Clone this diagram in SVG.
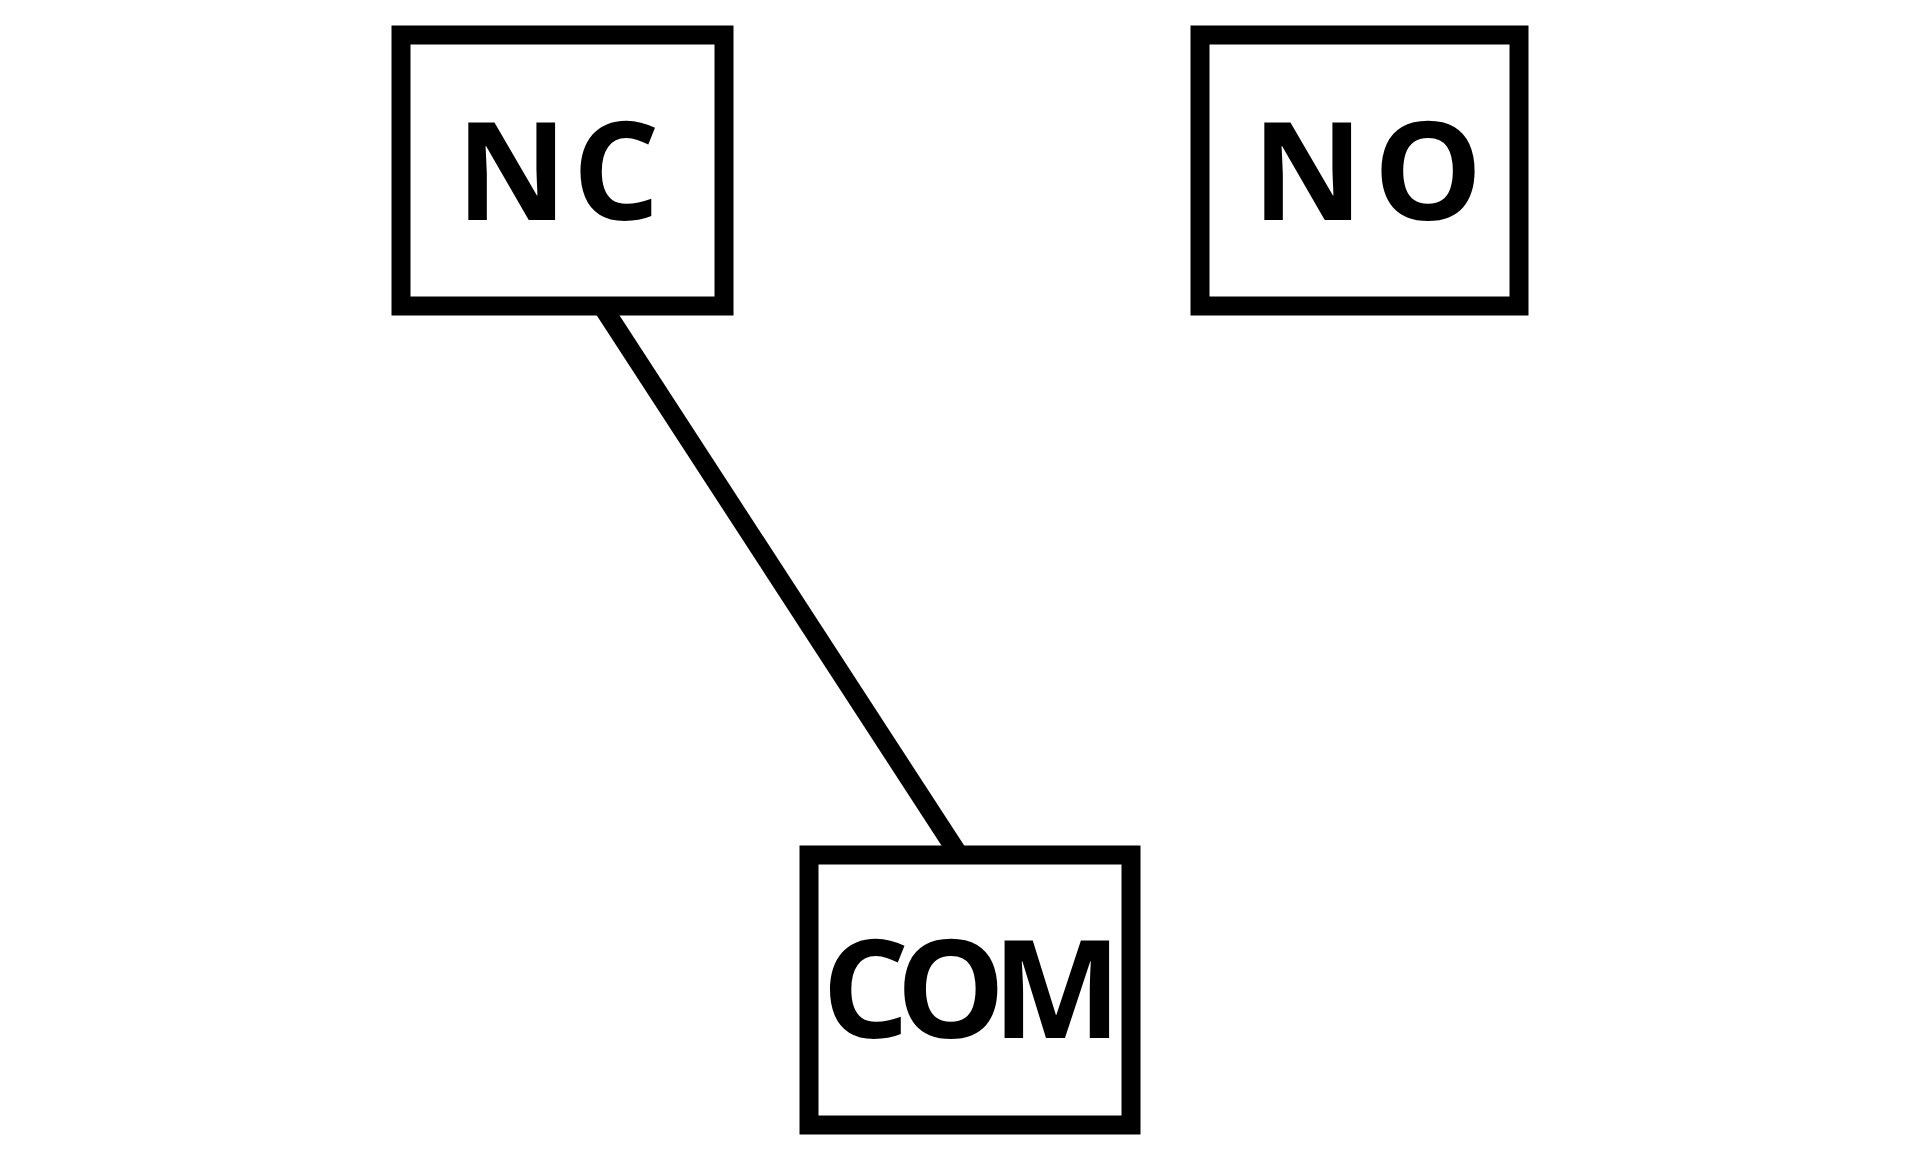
<svg xmlns="http://www.w3.org/2000/svg" width="1920" height="1152" viewBox="0 0 1920 1152">
<style>
.box{fill:#fff;stroke:#000;stroke-width:19}
.lbl{font-family:"Open Sans","Noto Sans","DejaVu Sans",sans-serif;font-weight:700;font-size:137px;fill:#000}
.wire{stroke:#000;stroke-width:19;fill:none}
</style>
<rect width="1920" height="1152" fill="#fff"/>
<g id="connectors">
<line class="wire" x1="602" y1="306" x2="959" y2="855"/>
</g>
<g id="NC">
<rect class="box" x="401" y="35" width="323" height="271"/>
<text class="lbl" x="456" y="220" letter-spacing="5">NC</text>
</g>
<g id="NO">
<rect class="box" x="1200" y="35" width="319" height="271"/>
<text class="lbl" x="1252" y="220" letter-spacing="10">NO</text>
</g>
<g id="COM">
<rect class="box" x="809" y="855" width="322" height="270"/>
<text class="lbl" x="822" y="1038" letter-spacing="-13">COM</text>
</g>
</svg>
